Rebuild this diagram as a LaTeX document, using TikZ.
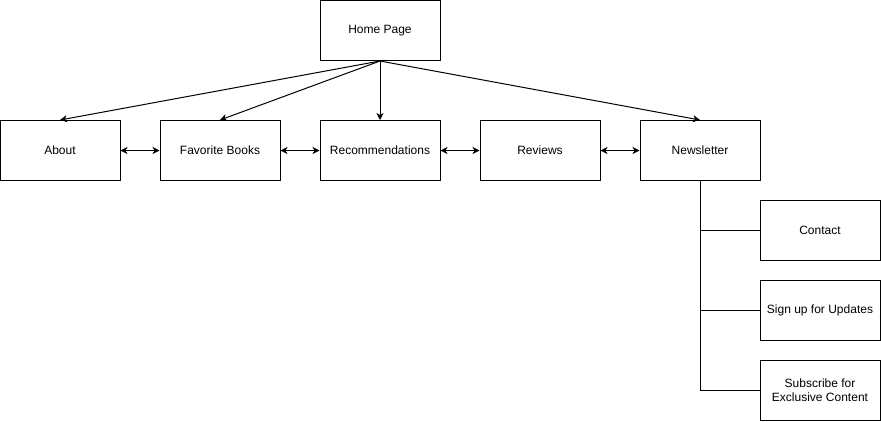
\documentclass[tikz,border=0pt]{standalone}
\usepackage{fontspec}
\setmainfont{Liberation Sans}
\usetikzlibrary{arrows,arrows.meta,shapes,backgrounds}

\tikzset{
	page/.style={draw, line width=1pt, minimum width=120pt, minimum height=60pt, inner sep=2pt, align=center, font=\fontsize{12}{14}\selectfont},
	link/.style={line width=1pt, -{Stealth[length=7pt, width=7pt, inset=2pt]}},
	both/.style={line width=1pt, {Stealth[length=7pt, width=7pt, inset=2pt]}-{Stealth[length=7pt, width=7pt, inset=2pt]}},
	tree/.style={line width=1pt}
}

\begin{document}
\begin{tikzpicture}[x=1pt, y=-1pt]
	\useasboundingbox (0,0) rectangle (881,421);
	\node [page] (home) at (380,30.5) {Home Page};
	\node [page] (about) at (60,150.5) {About};
	\node [page] (books) at (220,150.5) {Favorite Books};
	\node [page] (recs) at (380,150.5) {Recommendations};
	\node [page] (reviews) at (540,150.5) {Reviews};
	\node [page] (news) at (700,150.5) {Newsletter};
	\node [page] (contact) at (820,230.5) {Contact};
	\node [page] (signup) at (820,310.5) {Sign up for Updates};
	\node [page] (subscribe) at (820,390.5) {Subscribe for\\Exclusive Content};
	\draw [link] (home.south) -- (about.north);
	\draw [link] (home.south) -- (books.north);
	\draw [link] (home.south) -- (recs.north);
	\draw [link] (home.south) -- (news.north);
	\draw [both] (about) -- (books);
	\draw [both] (books) -- (recs);
	\draw [both] (recs) -- (reviews);
	\draw [both] (reviews) -- (news);
	\coordinate (c1) at (news.south |- contact.west);
	\coordinate (c2) at (news.south |- signup.west);
	\coordinate (c3) at (news.south |- subscribe.west);
	\draw [tree] (news.south) -- (c3) -- (subscribe.west);
	\draw [tree] (c1) -- (contact.west);
	\draw [tree] (c2) -- (signup.west);
\end{tikzpicture}
\end{document}
